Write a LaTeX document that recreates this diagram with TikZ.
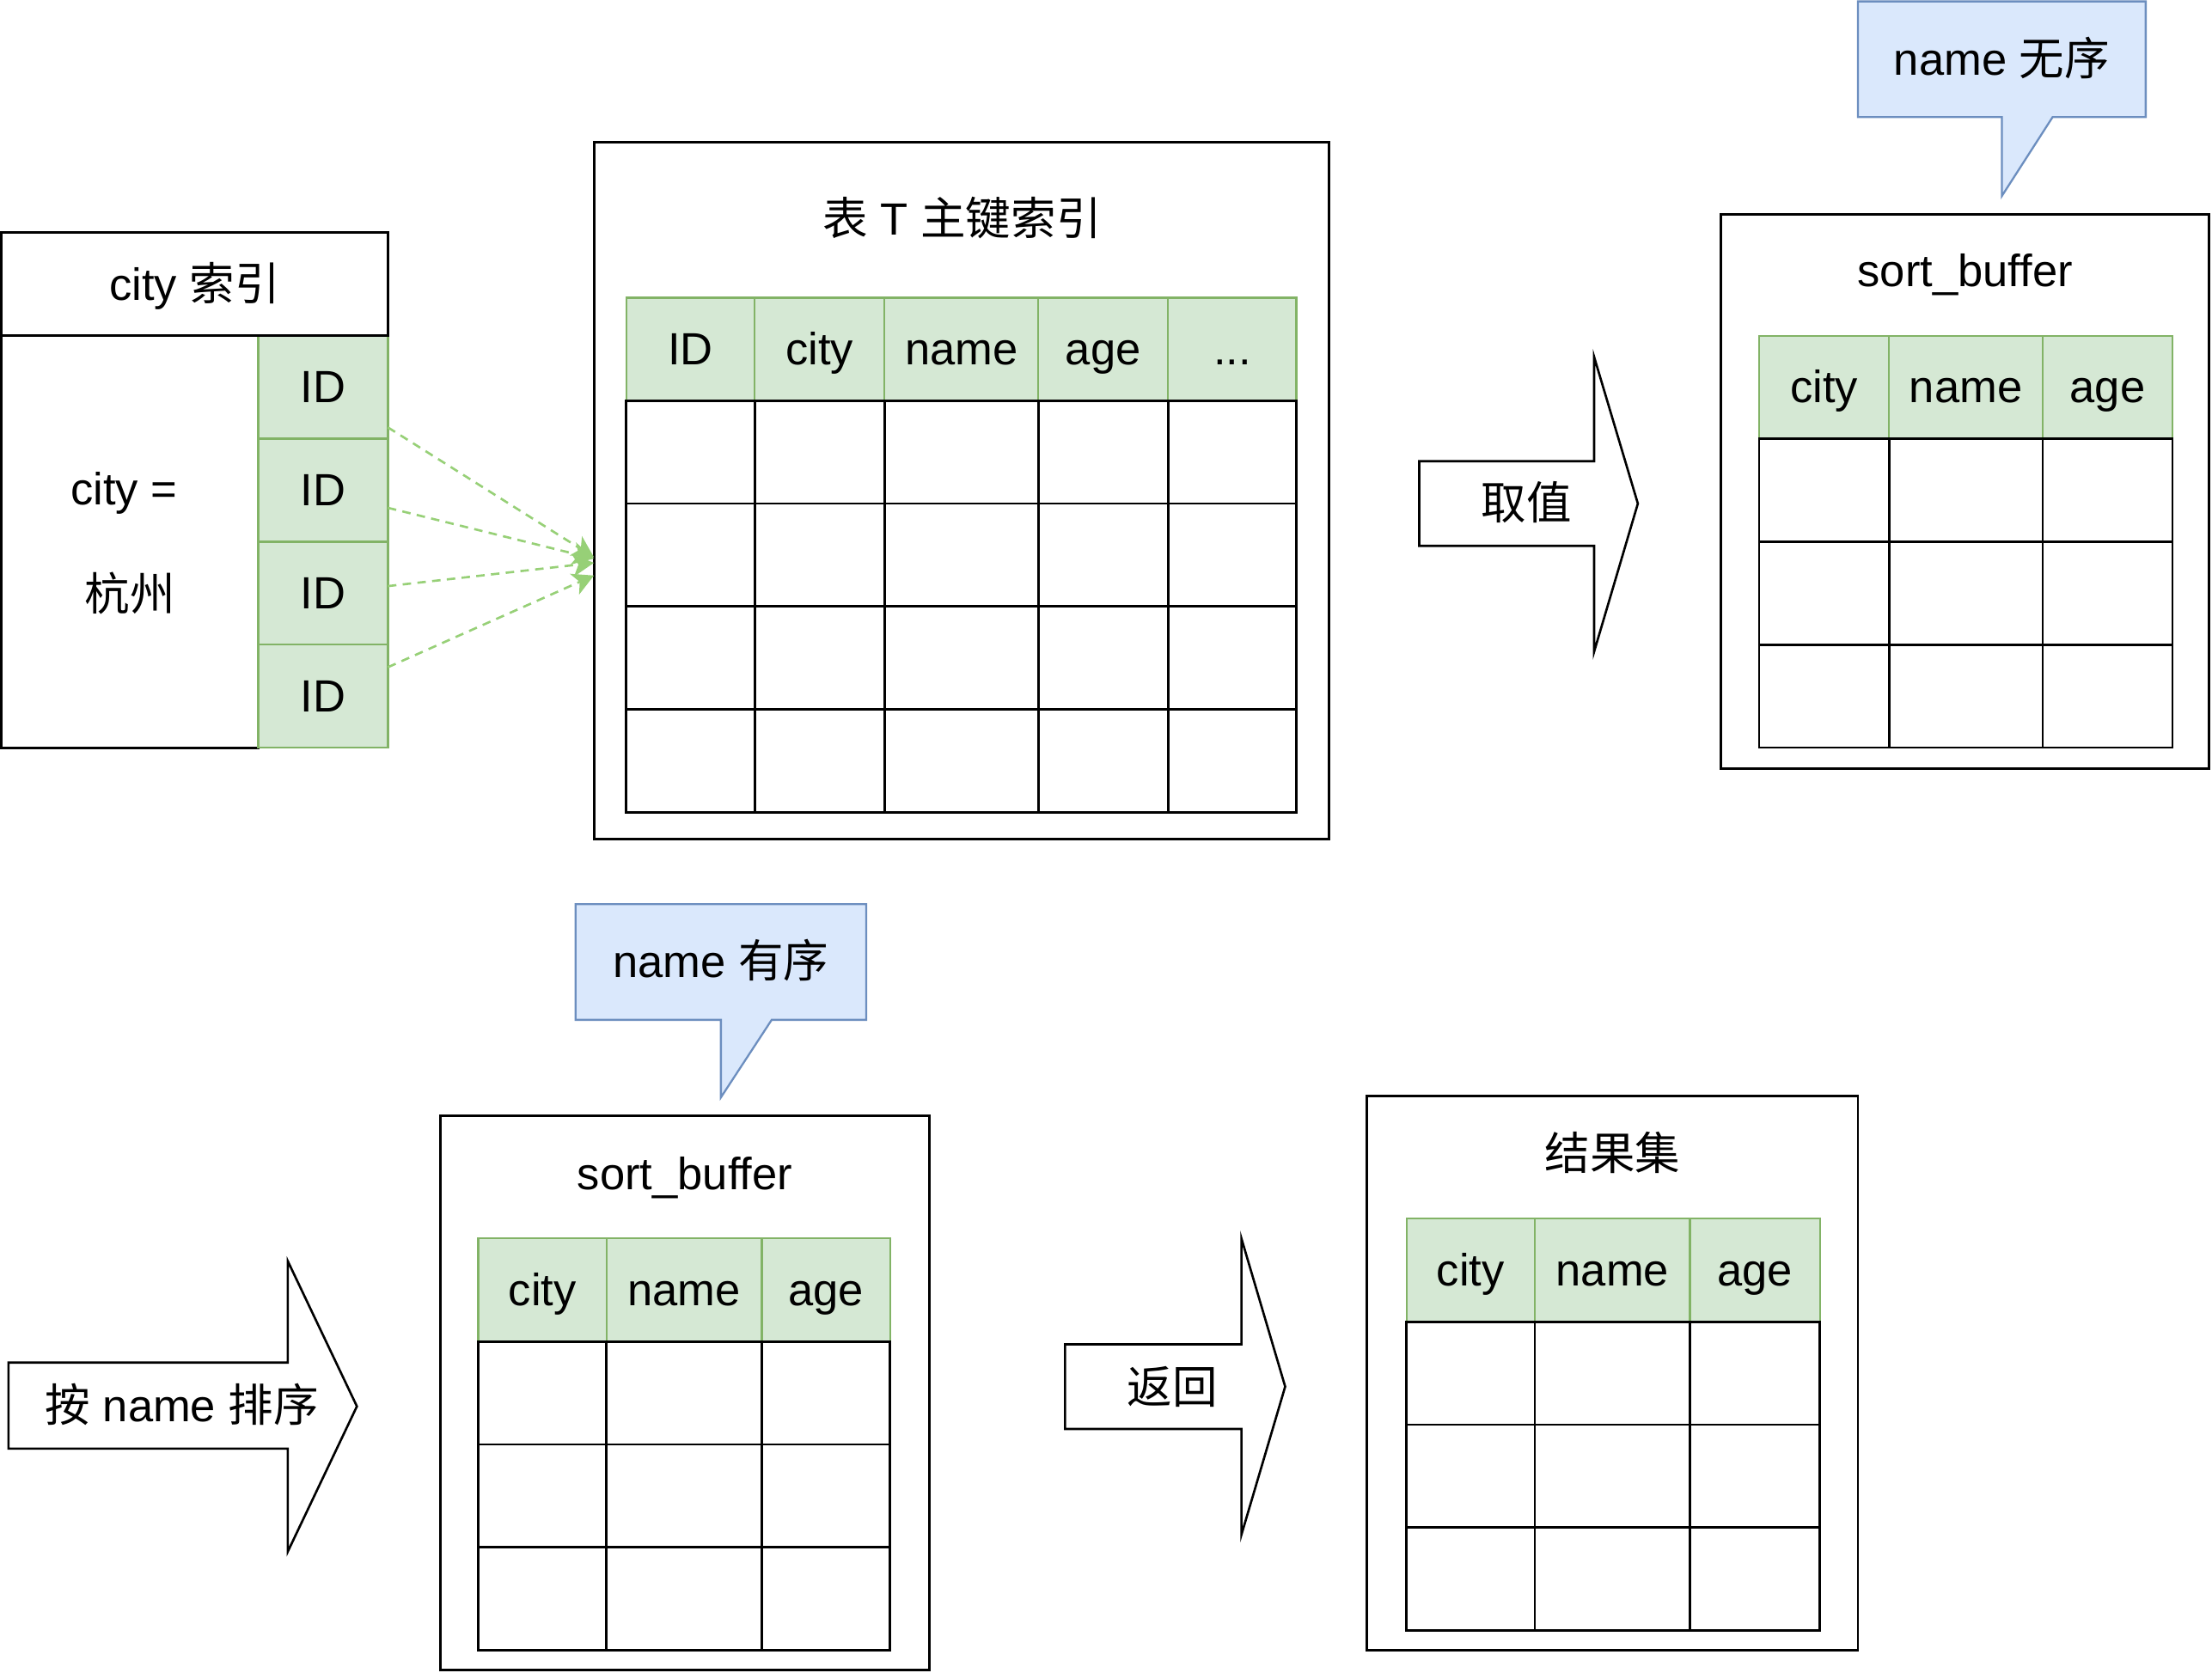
\documentclass[tikz,border=0pt]{standalone}
\usepackage{fontspec}
\setmainfont{Liberation Sans}
\newfontfamily\cjk{Noto Sans CJK SC}
\usetikzlibrary{arrows.meta}
\definecolor{gfill}{HTML}{D5E8D4}
\definecolor{gline}{HTML}{82B366}
\definecolor{bfill}{HTML}{DAE8FC}
\definecolor{bline}{HTML}{6C8EBF}
\definecolor{garrow}{HTML}{97D077}
\newcommand\mydots{...}
\begin{document}
\begin{tikzpicture}[x=1pt,y=-1pt,
  lbl/.style={inner sep=0pt, outer sep=0pt, text height=29pt, text depth=6.8pt, font=\fontsize{32pt}{38pt}\selectfont},
  outerbox/.style={draw=black, line width=1.8pt, fill=white},
  cellbase/.style={lbl, anchor=north west, minimum height=73pt},
  hcell/.style={cellbase, draw=gline, fill=gfill, line width=1.4pt},
  dcell/.style={cellbase, draw=black, line width=1.7pt},
  bubble/.style={draw=bline, fill=bfill, line width=1.4pt, line join=miter},
  blockarrow/.style={draw=black, fill=white, line width=1.6pt, line join=miter},
  linkarrow/.style={draw=garrow, line width=1.6pt, dash pattern=on 6pt off 4.5pt, -{Stealth[length=15pt,width=16pt,inset=4pt]}}
]
\useasboundingbox (0,0) rectangle (1568,1186);
\fill[white] (0,0) rectangle (1568,1186);

% ---------- city index ----------
\node[outerbox, anchor=north west, minimum width=182pt, minimum height=292pt, inner sep=0pt, outer sep=0pt] (cibody) at (1,238) {};
\node[lbl] (cieq) at (88,347) {city =};
\node[lbl] (cihz) at (92,422) {\cjk 杭州};
\foreach \r in {1,...,4}{
  \node[hcell, minimum width=92pt] (id\r) at (183,{238+73*(\r-1)}) {ID};
}
\node[outerbox, lbl, anchor=north west, minimum width=274pt, minimum height=73pt] (cihead) at (1,165) {city {\cjk 索引}};

% ---------- table T primary index ----------
\node[outerbox, anchor=north west, minimum width=521pt, minimum height=494pt, inner sep=0pt, outer sep=0pt] (tbox) at (421,101) {};
\node[lbl] (ttitle) at (682,155.5) {{\cjk 表} T {\cjk 主键索引}};
\foreach \x/\w/\t [count=\i] in {444/91/ID,535/92/city,627/109/name,736/92/age,828/91/\mydots}{
  \node[hcell, minimum width=\w pt] (T-0-\i) at (\x,211) {\t};
  \foreach \r in {1,...,4}{
    \node[dcell, minimum width=\w pt] (T-\r-\i) at (\x,{211+73*\r}) {};
  }
}

% ---------- sort_buffer (top right) ----------
\node[outerbox, anchor=north west, minimum width=346pt, minimum height=393pt, inner sep=0pt, outer sep=0pt] (sbA) at (1220,152) {};
\node[lbl] (sbAtitle) at (1393,192) {sort\_buffer};
\foreach \x/\w/\t [count=\i] in {1247/92/city,1339/109/name,1448/92/age}{
  \node[hcell, minimum width=\w pt] (A-0-\i) at (\x,238) {\t};
  \foreach \r in {1,...,3}{
    \node[dcell, minimum width=\w pt] (A-\r-\i) at (\x,{238+73*\r}) {};
  }
}

% ---------- sort_buffer (bottom) ----------
\node[outerbox, anchor=north west, minimum width=347pt, minimum height=393pt, inner sep=0pt, outer sep=0pt] (sbB) at (312,791) {};
\node[lbl] (sbBtitle) at (485.5,832) {sort\_buffer};
\foreach \x/\w/\t [count=\i] in {339/91/city,430/110/name,540/91/age}{
  \node[hcell, minimum width=\w pt] (B-0-\i) at (\x,878) {\t};
  \foreach \r in {1,...,3}{
    \node[dcell, minimum width=\w pt] (B-\r-\i) at (\x,{878+73*\r}) {};
  }
}

% ---------- result set ----------
\node[outerbox, anchor=north west, minimum width=348pt, minimum height=393pt, inner sep=0pt, outer sep=0pt] (res) at (969,777) {};
\node[lbl] (restitle) at (1143,818) {\cjk 结果集};
\foreach \x/\w/\t [count=\i] in {997/91/city,1088/110/name,1198/92/age}{
  \node[hcell, minimum width=\w pt] (R-0-\i) at (\x,864) {\t};
  \foreach \r in {1,...,3}{
    \node[dcell, minimum width=\w pt] (R-\r-\i) at (\x,{864+73*\r}) {};
  }
}

% ---------- callouts ----------
\draw[bubble] (1317,1) -- (1521,1) -- (1521,83) -- (1455,83) -- (1419,139) -- (1419,83) -- (1317,83) -- cycle;
\node[lbl] (noorder) at (1419,42) {name {\cjk 无序}};
\draw[bubble] (408,641) -- (614,641) -- (614,723) -- (547,723) -- (511,778) -- (511,723) -- (408,723) -- cycle;
\node[lbl] (ordered) at (511,682) {name {\cjk 有序}};

% ---------- block arrows ----------
\draw[blockarrow] (1006,327) -- (1130,327) -- (1130,253) -- (1161,357) -- (1130,462) -- (1130,387) -- (1006,387) -- cycle;
\node[lbl] (fetch) at (1082,357) {\cjk 取值};
\draw[blockarrow] (6,966) -- (204,966) -- (204,894) -- (253,997) -- (204,1100) -- (204,1027) -- (6,1027) -- cycle;
\node[lbl] (sortby) at (129,997) {{\cjk 按} name {\cjk 排序}};
\draw[blockarrow] (755,953) -- (880,953) -- (880,878) -- (911,983) -- (880,1088) -- (880,1013) -- (755,1013) -- cycle;
\node[lbl] (ret) at (831,984) {\cjk 返回};

% ---------- dashed links ----------
\coordinate (e1) at (421,395);
\coordinate (e2) at (421,396);
\coordinate (e3) at (421,399);
\coordinate (e4) at (421,408);
\draw[linkarrow] ([yshift=-28.5pt]id1.east) -- (e1);
\draw[linkarrow] ([yshift=-12.5pt]id2.east) -- (e2);
\draw[linkarrow] ([yshift=5pt]id3.east) -- (e3);
\draw[linkarrow] ([yshift=20.5pt]id4.east) -- (e4);
\end{tikzpicture}
\end{document}
